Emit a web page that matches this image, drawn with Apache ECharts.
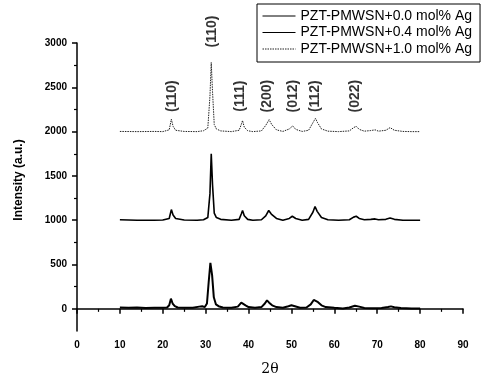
<!DOCTYPE html>
<html>
<head>
<meta charset="utf-8">
<script src="https://cdn.jsdelivr.net/npm/echarts@6/dist/echarts.min.js"></script>
<style>
  html, body { margin: 0; padding: 0; background: #fff; }
  #chart { width: 482px; height: 378px; }
</style>
</head>
<body>
<div id="chart"></div>
<script>
// [2θ, intensity], each pattern offset by 1000
const ag00 = [[10,15],[12,12],[14,14],[16,10],[18,12],[20,12],[21,15],[21.5,40],[21.9,115],[22.3,60],[22.8,30],[23.5,15],[25,12],[27,12],[28.5,25],[29.2,30],[29.8,20],[30.3,60],[30.7,300],[31.1,520],[31.5,380],[31.9,130],[32.4,50],[33,30],[34,15],[36,12],[37.5,25],[38.3,70],[38.7,75],[39.3,40],[40,20],[41.5,12],[43,20],[43.8,60],[44.3,95],[44.8,70],[45.5,40],[46.5,20],[48,12],[49.3,30],[50,40],[50.8,30],[52,12],[53.5,15],[54.5,50],[55.2,100],[55.6,115],[56.2,75],[57,40],[58,20],[60,12],[62,5],[63.5,15],[64.8,35],[65.8,25],[67,10],[69,8],[71,10],[72.5,20],[73.2,28],[74,18],[75.5,10],[78,5],[80,5]]
const ag04 = [[10,1005],[14,1000],[18,1000],[20,1002],[21.5,1020],[22,1120],[22.4,1060],[23,1020],[25,1002],[28,1000],[29.5,1005],[30.5,1030],[31,1300],[31.3,1750],[31.6,1400],[32,1080],[32.5,1030],[33.5,1010],[36,1000],[37.8,1010],[38.3,1070],[38.6,1110],[39,1050],[39.8,1010],[41,1000],[43,1005],[44,1050],[44.7,1110],[45.3,1070],[46.5,1020],[48,1000],[49.5,1020],[50.2,1045],[51,1020],[52.5,1000],[54,1010],[55,1090],[55.5,1155],[56,1100],[57,1030],[58.5,1005],[61,1000],[63.5,1005],[64.5,1035],[65.1,1045],[65.8,1020],[67,1005],[68.5,1010],[69.5,1015],[70.3,1005],[72,1010],[73,1025],[74,1010],[76,1000],[78,1000],[80,1000]]
const ag10 = [[10,2002],[14,2000],[18,2002],[20,2000],[21.5,2020],[22,2140],[22.4,2060],[23,2015],[25,2002],[28,2000],[29.5,2010],[30.5,2040],[31,2400],[31.3,2780],[31.6,2450],[32,2080],[32.5,2030],[33.5,2008],[36,2000],[37.8,2015],[38.3,2080],[38.6,2125],[39,2050],[39.8,2010],[41,2000],[43,2008],[44,2070],[44.8,2135],[45.4,2080],[46.5,2020],[48,2002],[49.5,2030],[50.3,2065],[51,2025],[52.5,2002],[54,2015],[55,2100],[55.6,2150],[56.1,2100],[57,2030],[58.5,2005],[61,2000],[63.5,2008],[64.5,2045],[65.1,2060],[65.8,2025],[67,2005],[68.5,2012],[69.5,2020],[70.3,2005],[72,2015],[73,2045],[74,2015],[76,2002],[78,2000],[80,2000]]

const seriesNames = ['PZT-PMWSN+0.0 mol% Ag', 'PZT-PMWSN+0.4 mol% Ag', 'PZT-PMWSN+1.0 mol% Ag']
const peakNames = ['(110)', '(110)', '(111)', '(200)', '(012)', '(112)', '(022)']
const peakTheta = [22.1, 31.5, 38.0, 44.3, 50.4, 55.5, 64.8]
const peakLabelY = [2400, 3130, 2400, 2400, 2400, 2400, 2400]
const yLabelTicks = [0, 500, 1000, 1500, 2000, 2500, 3000]
const yMinorTicks = [250, 750, 1250, 1750, 2250, 2750]

const FONT = 'Liberation Sans, Arial, sans-serif'
const chart = echarts.init(document.getElementById('chart'), null, { renderer: 'canvas' })

const lineSeries = (name, data, width, type, color) => ({
  name,
  type: 'line',
  data,
  symbol: 'none',
  animation: false,
  lineStyle: { color, width, type },
  itemStyle: { color }
})

// plain numbers on the axes, no thousands separator
const plain = v => String(v)

chart.setOption({
  animation: false,
  backgroundColor: '#fff',
  grid: { left: 77, right: 19, top: 43, bottom: 47, outerBoundsMode: 'none' },
  legend: {
    orient: 'vertical',
    left: 257,
    top: 4,
    padding: [5, 8, 6, 5],
    itemGap: 2.5,
    itemWidth: 33,
    itemHeight: 14,
    borderColor: '#000',
    borderWidth: 1,
    itemStyle: { opacity: 0 },
    lineStyle: { width: 1 },
    textStyle: { fontFamily: FONT, fontSize: 14, color: '#000' },
    data: seriesNames
  },
  xAxis: {
    type: 'value',
    min: 0,
    max: 90,
    interval: 10,
    name: '2θ',
    nameLocation: 'middle',
    nameGap: 31,
    nameTextStyle: { fontFamily: 'DejaVu Serif, serif', fontSize: 14, color: '#000' },
    axisLine: { show: true, lineStyle: { color: '#000', width: 1.5 } },
    axisTick: { show: true, length: 5, lineStyle: { color: '#000', width: 1.5 } },
    minorTick: { show: true, splitNumber: 2, length: 3, lineStyle: { color: '#000', width: 1.2 } },
    axisLabel: { margin: 9, formatter: plain, fontFamily: FONT, fontSize: 10, fontWeight: 'bold', color: '#000' },
    splitLine: { show: false }
  },
  yAxis: [
    {
      type: 'value',
      min: -250,
      max: 3000,
      interval: 250,
      name: 'Intensity (a.u.)',
      nameLocation: 'middle',
      nameGap: 52,
      nameTextStyle: { fontFamily: FONT, fontSize: 12, fontWeight: 'bold', color: '#000', padding: [0, 0, 0, 14] },
      axisLine: { show: true, lineStyle: { color: '#000', width: 1.5 } },
      axisTick: { show: true, length: 5, customValues: yLabelTicks, lineStyle: { color: '#000', width: 1.5 } },
      axisLabel: { margin: 10, customValues: yLabelTicks, formatter: plain, fontFamily: FONT, fontSize: 10, fontWeight: 'bold', color: '#000' },
      splitLine: { show: false }
    },
    {
      type: 'value',
      position: 'left',
      min: -250,
      max: 3000,
      interval: 250,
      axisLine: { show: false },
      axisTick: { show: true, length: 3, customValues: yMinorTicks, lineStyle: { color: '#000', width: 1.2 } },
      axisLabel: { show: false },
      splitLine: { show: false }
    }
  ],
  series: [
    lineSeries(seriesNames[0], ag00, 2, 'solid', '#000'),
    lineSeries(seriesNames[1], ag04, 1.6, 'solid', '#000'),
    lineSeries(seriesNames[2], ag10, 1, [1.5, 1], '#222'),
    {
      type: 'scatter',
      symbolSize: 0,
      clip: false,
      silent: true,
      animation: false,
      data: peakTheta.map((t, i) => ({ value: [t, peakLabelY[i]], name: peakNames[i] })),
      label: {
        show: true,
        position: 'inside',
        rotate: 90,
        formatter: p => p.name,
        fontFamily: FONT,
        fontSize: 14,
        fontWeight: 'bold',
        color: '#000'
      }
    }
  ]
})
</script>
</body>
</html>
